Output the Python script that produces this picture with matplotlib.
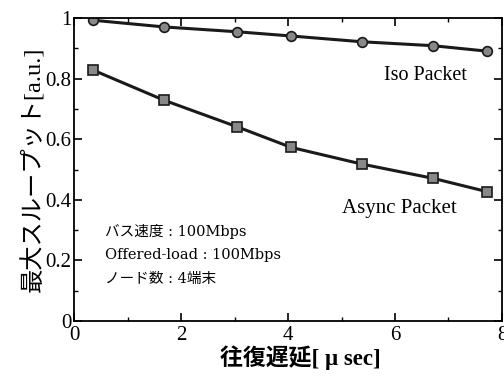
import matplotlib
matplotlib.use('Agg')
import matplotlib.pyplot as plt
import numpy as np

plt.rcParams['font.family'] = ['Liberation Serif', 'Noto Sans CJK JP']

# round trip delay [usec]
delay = [0.36, 1.68, 3.05, 4.06, 5.38, 6.71, 7.72]
iso = [0.993, 0.971, 0.955, 0.941, 0.922, 0.909, 0.891]
async_ = [0.828, 0.729, 0.641, 0.573, 0.518, 0.471, 0.427]

fig = plt.figure(figsize=(5.04, 3.78), dpi=100)
ax = fig.add_axes([0.147, 0.151, 0.849, 0.801])

ax.plot(delay, iso, color='#1a1a1a', lw=2.2, marker='o', ms=7,
        mfc='#888888', mec='#1a1a1a', mew=1.2)
ax.plot(delay, async_, color='#1a1a1a', lw=2.2, marker='s', ms=7,
        mfc='#888888', mec='#1a1a1a', mew=1.2)

ax.set_xlim(0, 8)
ax.set_ylim(0, 1)
ax.set_xticks([0, 2, 4, 6, 8])
ax.set_xticks([1, 3, 5, 7], minor=True)
ax.set_yticks([0, 0.2, 0.4, 0.6, 0.8, 1])
ax.set_yticklabels(['0', '0.2', '0.4', '0.6', '0.8', '1'])
ax.set_yticks([0.1, 0.3, 0.5, 0.7, 0.9], minor=True)
ax.tick_params(which='both', direction='in', top=True, right=True, labelsize=15, pad=2)
ax.tick_params(axis='x', pad=4)
ax.tick_params(which='major', length=6, width=1.2)
ax.tick_params(which='minor', length=3, width=1)
for s in ax.spines.values():
    s.set_linewidth(1.3)

ax.set_xlabel('往復遅延[ μ sec]', fontsize=16.5, fontweight='bold')
ax.xaxis.set_label_coords(0.53, -0.08)
ax.set_ylabel('最大スループット[a.u.]', fontsize=17.5, labelpad=0)

ax.text(5.8, 0.81, 'Iso Packet', fontsize=14.5, ha='left', va='center')
ax.text(5.0, 0.37, 'Async Packet', fontsize=15, ha='left', va='center')
info = {'family': ['DejaVu Serif', 'Noto Sans CJK JP'], 'fontsize': 10.5}
ax.text(0.57, 0.294, 'バス速度 : 100Mbps', ha='left', va='center', **info)
ax.text(0.57, 0.218, 'Offered-load : 100Mbps', ha='left', va='center', **info)
ax.text(0.57, 0.139, 'ノード数 : 4端末', ha='left', va='center', **info)

fig.savefig('out.png', dpi=100)
